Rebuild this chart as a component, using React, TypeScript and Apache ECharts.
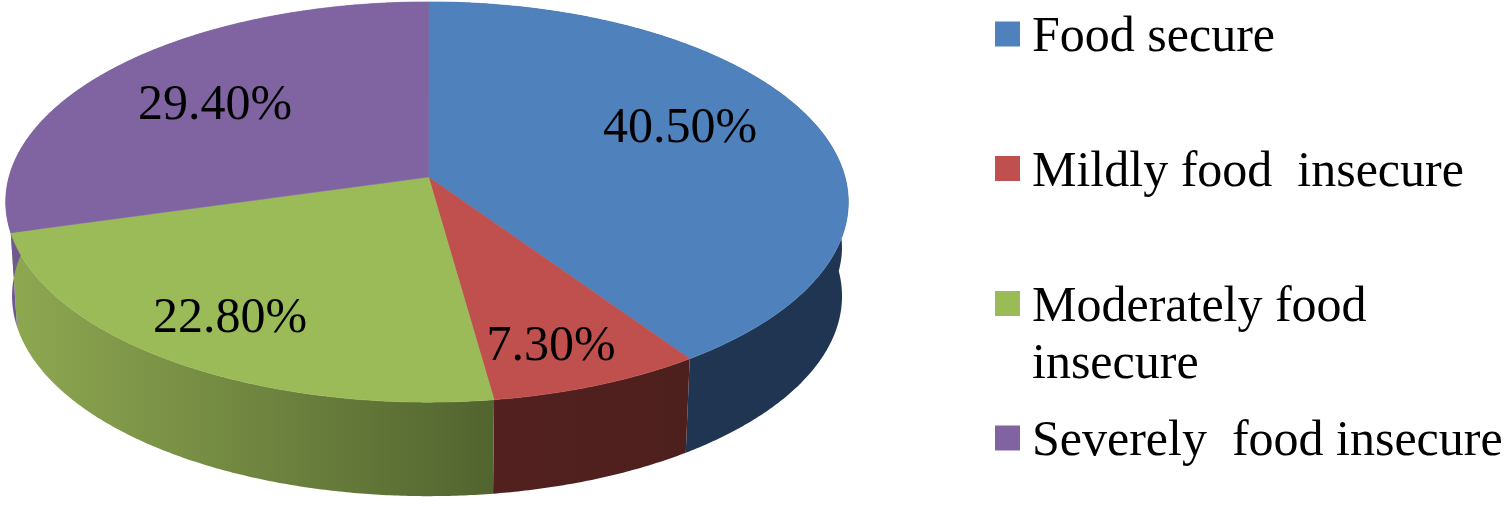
import React, { useEffect, useRef } from "react";
import * as echarts from "echarts";

const categories = ["Food secure", "Mildly food  insecure", "Moderately food insecure", "Severely  food insecure"];
const shares = [40.5, 7.3, 22.8, 29.4];
const topColors = ["#4f81bd", "#c0504d", "#9bbb59", "#8064a2"];

// layout of the projected disc (a circle seen in perspective)
const APEX_X = 428.5, APEX_Y = 177, RX = 418, RY = 197, PERSP = 0.125, DEPTH = 94, BOTTOM_SCALE = 0.985;
const FONT = "Liberation Serif";
const FONT_SIZE = 50;
const labelPositions = [[680, 125], [551, 343], [230, 315], [215, 102]];
const legendTops = [5.5, 140, 218, 409.5];

const sideFills = [
  ["#1f3552", "#1f3552"],
  ["#52211f", "#4d1f1d"],
  ["#8ea851", "#52642f"],
  ["#6f5790", "#7a609b"],
];

const project = (pct: number) => {
  const t = (pct / 100) * 2 * Math.PI;
  const u = Math.sin(t), v = -Math.cos(t), w = 1 - PERSP * v;
  return [APEX_X + (RX * u) / w - 1.5 * Math.abs(u), APEX_Y + (RY * v) / w, u, v];
};

const arc = (a: number, b: number) => {
  const pts: number[][] = [];
  const n = Math.max(2, Math.ceil((b - a) * 8));
  for (let i = 0; i <= n; i++) pts.push(project(a + ((b - a) * i) / n));
  return pts;
};

const ranges = shares.reduce<number[][]>((acc, v) => {
  const s = acc.length ? acc[acc.length - 1][1] : 0;
  acc.push([s, s + v]);
  return acc;
}, []);

export default function App() {
  const ref = useRef<HTMLDivElement>(null);
  useEffect(() => {
    const chart = echarts.init(ref.current!, undefined, { renderer: "svg" });
    const sideSeries = categories.map((_, i) => ({
      type: "custom",
      coordinateSystem: "none",
      name: "side" + i,
      silent: true,
      z: 1,
      data: [ranges[i]],
      renderItem: (_p: any, api: any) => {
        const arcPts = arc(api.value(0), api.value(1));
        const top = arcPts.map((p) => [p[0], p[1]]);
        const bottom = arcPts
          .map(([x, y, u, v]) => {
            // the rim's far right reaches up to the top face's edge
            const s = BOTTOM_SCALE + (u > 0 && v < 0 ? 0.25 * -v : 0);
            return [APEX_X + (x - APEX_X) * s, y + DEPTH];
          })
          .reverse();
        const xs = top.map((p) => p[0]);
        const x0 = Math.min(...xs), x1 = Math.max(...xs);
        return {
          type: "polygon",
          shape: { points: [...top, ...bottom] },
          style: {
            fill: new echarts.graphic.LinearGradient(x0, 0, x1, 0, [
              { offset: 0, color: sideFills[i][0] },
              { offset: 1, color: sideFills[i][1] },
            ], true),
            stroke: "none",
          },
        };
      },
    }));
    const topSeries = categories.map((name, i) => ({
      type: "custom",
      coordinateSystem: "none",
      name,
      silent: true,
      z: 2,
      itemStyle: { color: topColors[i] },
      data: [[ranges[i][0], ranges[i][1], shares[i]]],
      renderItem: (_p: any, api: any) => ({
        type: "group",
        children: [
          {
            type: "polygon",
            shape: {
              points: [[APEX_X, APEX_Y], ...arc(api.value(0), api.value(1)).map((p) => [p[0], p[1]])],
            },
            style: { fill: topColors[i], stroke: topColors[i], lineWidth: 0.6 },
          },
          {
            type: "text",
            z2: 10,
            style: {
              text: api.value(2).toFixed(2) + "%",
              x: labelPositions[i][0],
              y: labelPositions[i][1],
              align: "center",
              verticalAlign: "middle",
              fill: "#000",
              font: `${FONT_SIZE}px "${FONT}"`,
            },
          },
        ],
      }),
    }));
    chart.setOption({
      animation: false,
      backgroundColor: "#fff",
      legend: categories.map((name, i) => ({
        data: [name],
        left: 995,
        top: legendTops[i],
        padding: 0,
        icon: "rect",
        itemWidth: 25,
        itemHeight: 25,
        selectedMode: false,
        formatter: (n: string) => n.replace("Moderately food ", "\nModerately food\n"),
        textStyle: {
          fontFamily: FONT,
          fontSize: FONT_SIZE,
          color: "#000",
          lineHeight: 57,
          padding: [0, 0, 0, 7],
        },
      })),
      series: [...sideSeries, ...topSeries],
    });
    return () => chart.dispose();
  }, []);
  return <div ref={ref} style={{ position: "fixed", left: 0, top: 0, width: 1507, height: 510 }} />;
}
